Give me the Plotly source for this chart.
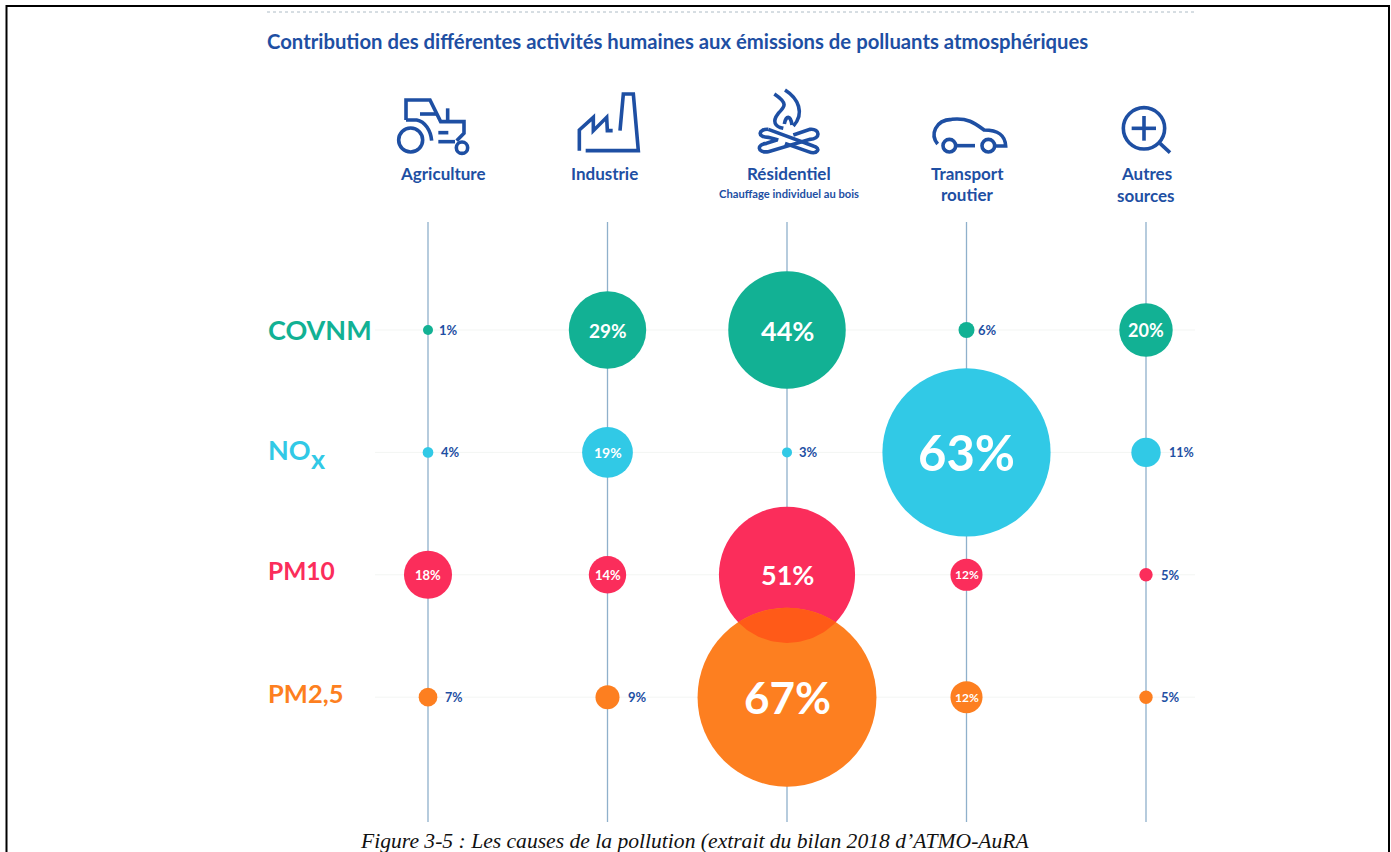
import math
import re
import plotly.graph_objects as go

W, H = 1391, 852

# ---- data ----
SECTORS = ["Agriculture", "Industrie", "Résidentiel", "Transport routier", "Autres sources"]
POLLUTANTS = ["COVNM", "NOx", "PM10", "PM2,5"]
covnm = [1, 29, 44, 6, 20]
nox = [4, 19, 3, 63, 11]
pm10 = [18, 14, 51, 12, 5]
pm25 = [7, 9, 67, 12, 5]
SERIES = [covnm, nox, pm10, pm25]
COLORS = ["#12b194", "#31c9e6", "#fb2d5b", "#fd7f20"]
LENS = "#ff5a18"
NAVY = "#1e4fa3"
STEM = "#8fb0cb"

# value-label font sizes, same shape as the data
label_sizes = [
    [13, 19, 27, 13, 18],
    [13, 14, 13, 49, 12.5],
    [13, 13, 27, 12, 13],
    [12.5, 13, 44, 12, 13],
]
INSIDE_MIN = 12

# ---- axis calibration (pixels) ----
X0, DX = 428.0, 179.5
Y0, DY = 330.0, 122.4
PX_PER_PCT = 2.67
xrange_ = [(0 - X0) / DX, (W - X0) / DX]
yrange_ = [(H - Y0) / DY, (0 - Y0) / DY]
STEM_TOP, STEM_BOT = (222 - Y0) / DY, (822 - Y0) / DY
ROW_L, ROW_R = (375 - X0) / DX, (1195 - X0) / DX


def px(x):
    return x / W


def py(y):
    return 1 - y / H


def path(s, ox, oy):
    """Icon outline in 3x crop coordinates -> paper coordinates."""
    toks = re.findall(r"[MLCQZ]|-?\d+\.?\d*", s)
    out, i = [], 0
    for t in toks:
        if t.isalpha():
            out.append(t)
        else:
            v = float(t)
            if i % 2 == 0:
                out.append(f"{px(ox + v / 3):.5f}")
            else:
                out.append(f"{py(oy + v / 3):.5f}")
            i += 1
    return " ".join(out)


fig = go.Figure()

# stems
for i in range(len(SECTORS)):
    fig.add_trace(go.Scatter(x=[i, i], y=[STEM_TOP, STEM_BOT], mode="lines",
                             line=dict(color=STEM, width=1.3), hoverinfo="skip", showlegend=False))
# faint row lines
for j in range(len(POLLUTANTS)):
    fig.add_trace(go.Scatter(x=[ROW_L, ROW_R], y=[j, j], mode="lines",
                             line=dict(color="#f3f5f3", width=1), hoverinfo="skip", showlegend=False))
# bubbles
for j, vals in enumerate(SERIES):
    fig.add_trace(go.Scatter(
        x=list(range(len(SECTORS))), y=[j] * len(SECTORS), mode="markers", name=POLLUTANTS[j],
        marker=dict(size=vals, sizemode="diameter", sizeref=1 / PX_PER_PCT, sizemin=5,
                    color=COLORS[j], line=dict(width=0), opacity=1),
        showlegend=False))

# overlap between the PM10 and PM2,5 residential bubbles
r1, r2 = pm10[2] * PX_PER_PCT / 2, pm25[2] * PX_PER_PCT / 2
d = DY
a = (d * d + r1 * r1 - r2 * r2) / (2 * d)
h = math.sqrt(r1 * r1 - a * a)
t1 = math.atan2(h, a)
t2 = math.atan2(h, d - a)
lx, ly = [], []
for k in range(41):
    t = -t1 + 2 * t1 * k / 40
    lx.append(2 + r1 * math.sin(t) / DX)
    ly.append(2 + r1 * math.cos(t) / DY)
for k in range(41):
    t = t2 - 2 * t2 * k / 40
    lx.append(2 + r2 * math.sin(t) / DX)
    ly.append(3 - r2 * math.cos(t) / DY)
fig.add_trace(go.Scatter(x=lx, y=ly, mode="lines", fill="toself", fillcolor=LENS,
                         line=dict(width=0, color=LENS), hoverinfo="skip", showlegend=False))

FONT = "Lato"
ann = []


def text(x, y, s, size, color=NAVY, anchor="center", bold=True, family=FONT, italic=False):
    c = f"<b>{s}</b>" if bold else s
    if italic:
        c = f"<i>{c}</i>"
    ann.append(dict(x=px(x), y=py(y), xref="paper", yref="paper", text=c, showarrow=False,
                    xanchor=anchor, yanchor="middle", align="center",
                    font=dict(size=size, color=color, family=family)))


# value labels
for j, vals in enumerate(SERIES):
    for i, v in enumerate(vals):
        inside = v >= INSIDE_MIN
        gap = 1 if v == 6 else 6
        ann.append(dict(
            x=i, y=j, xref="x", yref="y", showarrow=False, text=f"<b>{v}%</b>",
            xanchor="center" if inside else "left", yanchor="middle",
            xshift=0 if inside else max(v * PX_PER_PCT, 5) / 2 + gap,
            font=dict(size=label_sizes[j][i], color="white" if inside else NAVY, family=FONT)))

# heading, column and row labels
text(265, 41, "Contribution des différentes activités humaines aux émissions de polluants atmosphériques", 20.3, anchor="left")
text(443, 174, "Agriculture", 17)
text(604, 174, "Industrie", 17)
text(788.5, 174, "Résidentiel", 17)
text(789, 193.5, "Chauffage individuel au bois", 11.2)
text(967, 174, "Transport", 17)
text(967, 194.5, "routier", 17)
text(1146, 174, "Autres", 17)
text(1146, 195, "sources", 17)
text(266, 330, "COVNM", 27, COLORS[0], "left")
text(266, 450, "NO", 27, COLORS[1], "left")
text(309, 458, "x", 27, COLORS[1], "left")
text(266, 570, "PM10", 24.5, COLORS[2], "left")
text(266, 693, "PM2,5", 25.5, COLORS[3], "left")
text(694.5, 841, "Figure 3-5 : Les causes de la pollution (extrait du bilan 2018 d’ATMO-AuRA", 21.6, "#111111",
     bold=False, family="Liberation Serif", italic=True)

# ---- decorative shapes: frame, dotted rule, icons ----
shapes = [
    dict(type="rect", xref="paper", yref="paper", x0=px(6.5), x1=px(1389), y0=py(6), y1=py(870),
         line=dict(color="black", width=2), fillcolor="rgba(0,0,0,0)"),
    dict(type="line", xref="paper", yref="paper", x0=px(267), x1=px(1195), y0=py(12), y1=py(12),
         line=dict(color="#aebcc6", width=1, dash="dot")),
]
ICON = dict(color=NAVY, width=3.6)


def icon_path(s, ox, oy):
    shapes.append(dict(type="path", xref="paper", yref="paper", path=path(s, ox, oy),
                       line=ICON, fillcolor="rgba(0,0,0,0)"))


def icon_circle(cx, cy, r, ox, oy):
    shapes.append(dict(type="circle", xref="paper", yref="paper",
                       x0=px(ox + (cx - r) / 3), x1=px(ox + (cx + r) / 3),
                       y0=py(oy + (cy - r) / 3), y1=py(oy + (cy + r) / 3),
                       line=ICON, fillcolor="rgba(0,0,0,0)"))


# tractor
O1 = (380, 80)
icon_circle(92, 180, 36, *O1)
icon_circle(246, 203, 17, *O1)
icon_path("M 78 120 L 78 60 L 150 60 L 182 125 L 252 125 L 252 160 L 230 182", *O1)
icon_path("M 78 120 L 110 120 C 135 125 152 150 155 182", *O1)
icon_path("M 120 102 L 170 102", *O1)
icon_path("M 203 85 L 203 125", *O1)
icon_path("M 175 158 L 205 158", *O1)
icon_path("M 175 185 L 225 185", *O1)
# factory
icon_path("M 598 212 L 598 150 L 640 112 L 640 152 L 680 112 L 682 152 L 698 152", *O1)
icon_path("M 720 152 L 730 42 L 760 42 L 775 212 L 617 212", *O1)
# fire
icon_path("M 1183 42 C 1225 70 1215 80 1195 100 C 1175 125 1185 140 1210 145", *O1)
icon_path("M 1215 30 C 1255 55 1275 100 1240 138", *O1)
icon_path("M 1213 132 C 1218 105 1232 105 1236 135", *O1)
icon_path("M 1165 148 L 1300 198 C 1325 205 1312 225 1285 215 L 1215 190", *O1)
icon_path("M 1195 180 L 1165 172 C 1130 172 1135 146 1165 148", *O1)
icon_path("M 1240 165 L 1290 148 C 1322 145 1322 178 1290 178 L 1165 215 C 1130 220 1130 192 1160 190 L 1190 180", *O1)
# car
O2 = (840, 80)
icon_circle(328, 197, 19, *O2)
icon_circle(445, 197, 19, *O2)
icon_path("M 350 197 L 405 197", *O2)
icon_path("M 293 192 C 270 165 285 120 335 118 C 385 113 405 130 432 150 C 475 150 495 165 497 198 L 468 198", *O2)
# magnifier
icon_circle(912, 145, 62, *O2)
icon_path("M 875 145 L 948 145", *O2)
icon_path("M 912 108 L 912 182", *O2)
icon_path("M 960 190 L 990 218", *O2)

fig.update_layout(
    width=W, height=H, margin=dict(l=0, r=0, t=0, b=0), autosize=False,
    plot_bgcolor="white", paper_bgcolor="white",
    xaxis=dict(range=xrange_, visible=False, fixedrange=True),
    yaxis=dict(range=yrange_, visible=False, fixedrange=True),
    annotations=ann, shapes=shapes, showlegend=False,
)
fig.write_html("out.html", post_script="document.body.style.margin='0';",
               config=dict(displayModeBar=False))
